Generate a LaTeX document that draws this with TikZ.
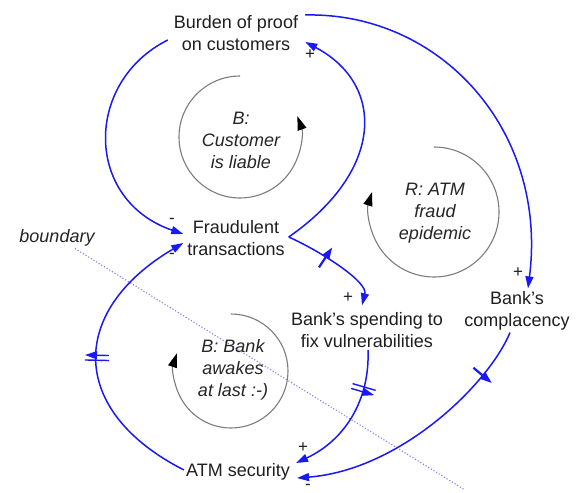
\documentclass[tikz,border=0pt]{standalone}
\usepackage{fontspec}
\setmainfont{Liberation Sans}
\usetikzlibrary{arrows.meta,decorations.markings}

\definecolor{linkblue}{RGB}{25,25,245}
\definecolor{loopgray}{RGB}{125,125,125}
\definecolor{bndblue}{RGB}{125,125,245}

\tikzset{
  var/.style={align=center, inner sep=2pt, font=\fontsize{18}{22}\selectfont, text=black!88},
  looplabel/.style={align=center, inner sep=1pt, font=\fontsize{18}{22}\selectfont\itshape, text=black!85},
  link/.style={draw=linkblue, line width=1.5pt, -{Triangle[length=12pt,width=8pt]}},
  loopcirc/.style={draw=loopgray, line width=1.1pt, -{Triangle[length=14pt,width=9pt,color=black]}},
  pol/.style={font=\fontsize{17}{17}\selectfont, inner sep=0pt, text=black!88},
  delay/.style={postaction={decorate}, decoration={markings,
      mark=at position #1 with {\draw[linkblue, line width=2.2pt] (0,-12) -- (0,12);}}},
  delaytwo/.style={postaction={decorate}, decoration={markings,
      mark=at position #1 with {\draw[linkblue, line width=1.4pt] (-2.5,-12) -- (-2.5,12) (2.5,-12) -- (2.5,12);}}},
}

\begin{document}
\begin{tikzpicture}[x=1pt,y=1pt]
  \fill[white] (0,0) rectangle (577,-492);
  \useasboundingbox (0,0) rectangle (577,-492);

  % variables
  \node[var] (burden) at (236,-33)  {Burden of proof\\on customers};
  \node[var] (fraud)  at (236,-238) {Fraudulent\\transactions};
  \node[var] (spend)  at (367,-330) {Bank's spending to\\fix vulnerabilities};
  \node[var] (compl)  at (517,-311) {Bank's\\complacency};
  \node[var] (atm)    at (238,-472) {ATM security};

  % system boundary
  \node[looplabel] (boundary) at (57,-238) {boundary};
  \coordinate (bndend) at (465,-490);
  \draw[bndblue, line width=1.1pt, dotted] ([xshift=18,yshift=-1]boundary.south) -- (bndend);

  % loop labels with their circulation arrows
  \node[looplabel] (loopcust) at (241,-140) {B:\\Customer\\is liable};
  \draw[loopcirc] (240,-76) arc[start angle=90, end angle=380, radius=61pt];

  \node[looplabel] (loopepi) at (435,-213) {R: ATM\\fraud\\epidemic};
  \draw[loopcirc] (434,-147) arc[start angle=90, end angle=-198, radius=65pt];

  \node[looplabel] (loopbank) at (233,-370) {B: Bank\\awakes\\at last :-)};
  \draw[loopcirc] (231,-314) arc[start angle=90, end angle=-198, radius=57pt];

  % causal links
  \draw[link] ([shift={(-4,-7)}]burden.west)
    .. controls (84,-82) and (84,-200) .. ([shift={(-2,4)}]fraud.west);
  \draw[link, delaytwo=0.5] ([yshift=2]atm.west)
    .. controls (68,-411) and (68,-311) .. ([shift={(-2,-5)}]fraud.west);
  \draw[link] ([shift={(2,1)}]fraud.east)
    .. controls (385,-170) and (385,-84) .. ([shift={(5,-9)}]burden.east);
  \draw[link, delay=0.4] ([shift={(2,1)}]fraud.east)
    .. controls (322,-252) and (368,-282) .. ([shift={(-5,5)}]spend.north);
  \draw[link] ([shift={(5,18)}]burden.east)
    .. controls (440,-12) and (548,-130) .. ([shift={(11,1)}]compl.north);
  \draw[link, delaytwo=0.28] ([xshift=1]spend.south)
    .. controls (370,-400) and (345,-440) .. ([shift={(4,9)}]atm.east);
  \draw[link, delay=0.19] ([xshift=-7]compl.south)
    .. controls (488,-385) and (400,-470) .. ([shift={(5,-6)}]atm.east);

  % link polarities
  \node[pol] (p1) at (310,-55)  {+};
  \node[pol] (p2) at (172,-221) {-};
  \node[pol] (p3) at (172,-256) {-};
  \node[pol] (p4) at (348,-298) {+};
  \node[pol] (p5) at (518,-273) {+};
  \node[pol] (p6) at (303,-448) {+};
  \node[pol] (p7) at (308,-487) {-};
\end{tikzpicture}
\end{document}
